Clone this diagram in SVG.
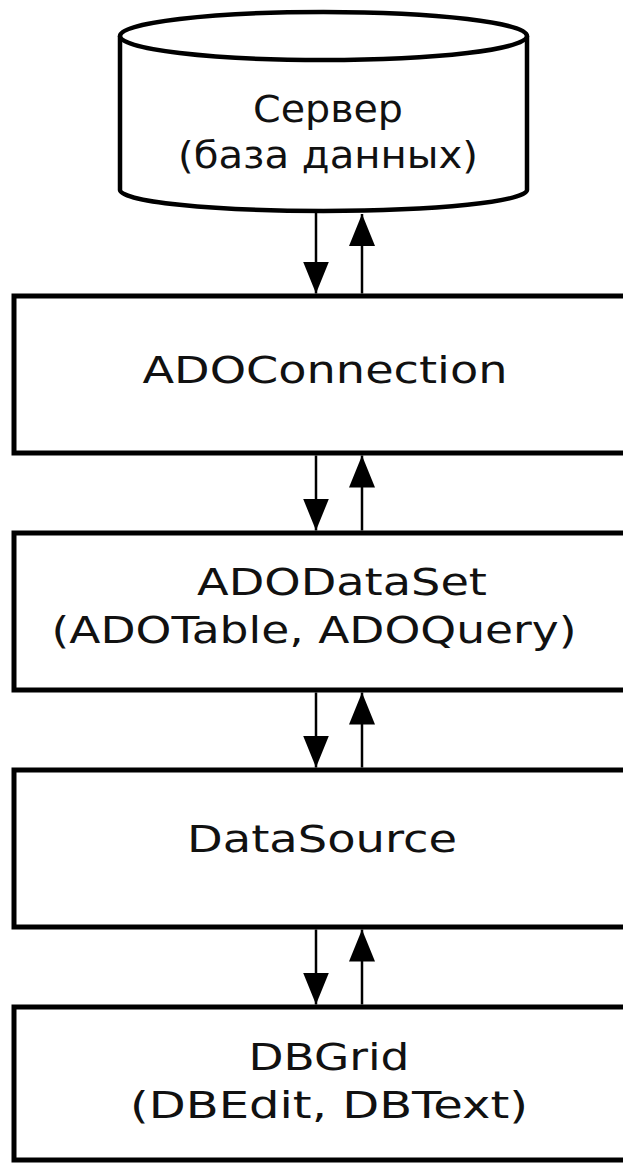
<svg xmlns="http://www.w3.org/2000/svg" width="623" height="1165" viewBox="0 0 623 1165">
<defs>
<style>
.box{fill:#fff;stroke:#000;stroke-width:5}
.cyl{fill:#fff;stroke:#000;stroke-width:4.5}
.lbl{font-family:"DejaVu Sans","Verdana",sans-serif;font-size:38px;fill:#111;text-anchor:middle}
.con{stroke:#000;stroke-width:2.5;fill:none}
</style>
<marker id="ah" markerUnits="userSpaceOnUse" markerWidth="32" markerHeight="26" refX="32" refY="13" orient="auto" viewBox="0 0 32 26">
<path d="M0,0 L32,13 L0,26 z" fill="#000"/>
</marker>
</defs>
<rect width="623" height="1165" fill="#fff"/>
<g id="server">
<path class="cyl" d="M120,36 V190 A203.5,21 0 0 0 527,190 V36"/>
<ellipse class="cyl" cx="323.5" cy="36" rx="203.5" ry="24"/>
<text class="lbl" x="328" y="122" textLength="150" lengthAdjust="spacingAndGlyphs">Сервер</text>
<text class="lbl" x="328" y="168" textLength="300" lengthAdjust="spacingAndGlyphs">(база данных)</text>
</g>
<g id="adoconnection">
<rect class="box" x="14" y="296" width="630" height="157"/>
<text class="lbl" x="325" y="383" textLength="365" lengthAdjust="spacingAndGlyphs">ADOConnection</text>
</g>
<g id="adodataset">
<rect class="box" x="14" y="533" width="630" height="157"/>
<text class="lbl" x="342" y="595" textLength="290" lengthAdjust="spacingAndGlyphs">ADODataSet</text>
<text class="lbl" x="314" y="643" textLength="525" lengthAdjust="spacingAndGlyphs">(ADOTable, ADOQuery)</text>
</g>
<g id="datasource">
<rect class="box" x="14" y="770" width="630" height="157"/>
<text class="lbl" x="322" y="852" textLength="270" lengthAdjust="spacingAndGlyphs">DataSource</text>
</g>
<g id="dbgrid">
<rect class="box" x="14" y="1007" width="630" height="153"/>
<text class="lbl" x="329" y="1070" textLength="161" lengthAdjust="spacingAndGlyphs">DBGrid</text>
<text class="lbl" x="329" y="1118" textLength="398" lengthAdjust="spacingAndGlyphs">(DBEdit, DBText)</text>
</g>
<g id="connectors">
<line class="con" x1="316" y1="213" x2="316" y2="293.5" marker-end="url(#ah)"/>
<line class="con" x1="362" y1="293.5" x2="362" y2="214" marker-end="url(#ah)"/>
<line class="con" x1="316" y1="455.5" x2="316" y2="530.5" marker-end="url(#ah)"/>
<line class="con" x1="362" y1="530.5" x2="362" y2="455.5" marker-end="url(#ah)"/>
<line class="con" x1="316" y1="692.5" x2="316" y2="767.5" marker-end="url(#ah)"/>
<line class="con" x1="362" y1="767.5" x2="362" y2="692.5" marker-end="url(#ah)"/>
<line class="con" x1="316" y1="929.5" x2="316" y2="1004.5" marker-end="url(#ah)"/>
<line class="con" x1="362" y1="1004.5" x2="362" y2="929.5" marker-end="url(#ah)"/>
</g>
</svg>
